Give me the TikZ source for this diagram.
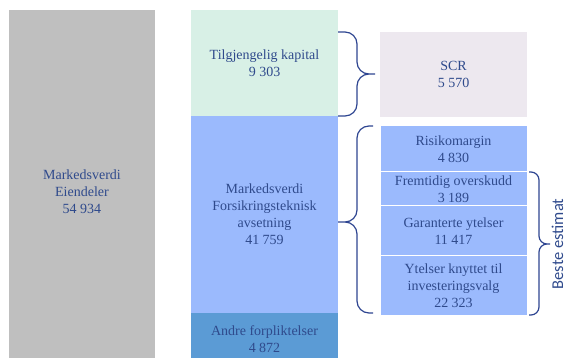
\documentclass[tikz,border=0pt]{standalone}
\usepackage{fontspec}
\setmainfont{Liberation Serif}
\newfontfamily\estimatfont{Carlito}
\usetikzlibrary{positioning}
\definecolor{tekstblaa}{HTML}{2F4A8C}
\definecolor{klammeblaa}{HTML}{2E4591}
\definecolor{graa}{HTML}{BFBFBF}
\definecolor{lysgronn}{HTML}{D8F0E6}
\definecolor{lysblaa}{HTML}{9BBAFD}
\definecolor{morkblaa}{HTML}{5B9BD5}
\definecolor{lilla}{HTML}{EDE8EF}
\begin{document}
\begin{tikzpicture}[x=1pt, y=-1pt,
    boks/.style={anchor=north west, inner sep=0pt, outer sep=0pt, minimum width=147pt,
        align=center, text=tekstblaa, font=\fontsize{14}{17}\selectfont},
    delboks/.style={boks, draw=white, line width=1pt},
    klamme/.style={draw=klammeblaa, line width=1.2pt, rounded corners=12pt}]
    \useasboundingbox (0,0) rectangle (566,358);

    % Eiendeler
    \node[boks, fill=graa, minimum width=146pt, minimum height=364pt] (eiendeler) at (9,10)
        {Markedsverdi\\Eiendeler\\54 934};

    % Kapital og forpliktelser
    \node[boks, fill=lysgronn, minimum height=106pt] (kapital) at (191,10)
        {Tilgjengelig kapital\\9 303};
    \node[boks, fill=lysblaa, minimum height=197pt, below=0pt of kapital] (avsetning)
        {Markedsverdi\\Forsikringsteknisk\\avsetning\\41 759};
    \node[boks, fill=morkblaa, minimum height=52pt, below=0pt of avsetning] (andre)
        {Andre forpliktelser\\4 872};

    % Solvenskapital
    \node[boks, fill=lilla, minimum height=85pt] (scr) at (380,32) {SCR\\5 570};

    % Oppdeling av avsetningen
    \node[delboks, fill=lysblaa, minimum height=46pt] (risiko) at (380,126) {Risikomargin\\4 830};
    \node[delboks, fill=lysblaa, minimum height=34pt, below=0pt of risiko] (overskudd)
        {Fremtidig overskudd\\3 189};
    \node[delboks, fill=lysblaa, minimum height=50pt, below=0pt of overskudd] (garanti)
        {Garanterte ytelser\\11 417};
    \node[delboks, fill=lysblaa, minimum height=60pt, below=0pt of garanti] (valg)
        {Ytelser knyttet til\\investeringsvalg\\22 323};

    % Klammer
    \coordinate (tipp1) at (375,74);
    \coordinate (tipp2) at (338,222);
    \coordinate (tipp3) at (550,244);
    \draw[klamme] (kapital.east |- scr.north) -| (357,74) -- (tipp1)
        (kapital.south east) -| (357,74) -- (tipp1);
    \draw[klamme] (373,126) -| (357,222) -- (tipp2)
        (373,313) -| (357,222) -- (tipp2);
    \draw[klamme, rounded corners=8pt] (529,172) -| (539,244) -- (tipp3)
        (529,315) -| (539,244) -- (tipp3);
    \node[rotate=90, inner sep=0pt, text=tekstblaa, font=\estimatfont\fontsize{16.5}{20}\selectfont] (beste)
        at (557.5,244) {Beste estimat};
\end{tikzpicture}
\end{document}
